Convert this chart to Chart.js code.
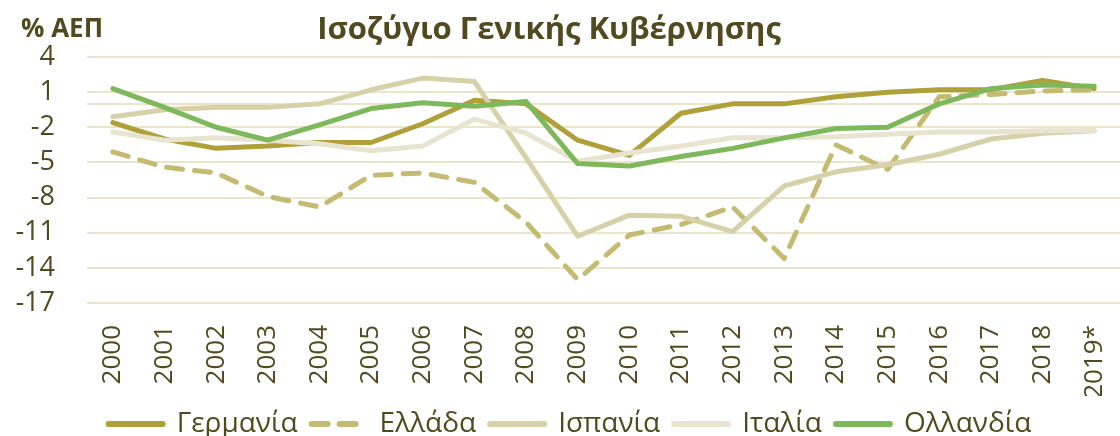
<!DOCTYPE html>
<html>
<head>
<meta charset="utf-8">
<script src="https://cdn.jsdelivr.net/npm/chart.js@4.4.0/dist/chart.umd.min.js"></script>
<style>
  html, body { margin: 0; padding: 0; background: #ffffff; }
</style>
</head>
<body>
<canvas id="chart" width="1120" height="436"></canvas>
<script>
const years = ["2000", "2001", "2002", "2003", "2004", "2005", "2006", "2007", "2008", "2009",
               "2010", "2011", "2012", "2013", "2014", "2015", "2016", "2017", "2018", "2019*"];

const germany     = [-1.6, -3.0, -3.8, -3.6, -3.3, -3.3, -1.7, 0.3, 0.0, -3.1, -4.4, -0.8, 0.0, 0.0, 0.6, 1.0, 1.2, 1.2, 2.0, 1.3];
const greece      = [-4.1, -5.4, -5.9, -7.9, -8.8, -6.1, -5.9, -6.7, -10.1, -15.0, -11.2, -10.3, -8.8, -13.2, -3.5, -5.6, 0.6, 0.8, 1.1, 1.2];
const spain       = [-1.1, -0.5, -0.3, -0.3, 0.0, 1.2, 2.2, 1.9, -4.6, -11.3, -9.5, -9.6, -10.9, -7.0, -5.8, -5.2, -4.3, -3.0, -2.5, -2.3];
const italy       = [-2.4, -3.1, -2.9, -3.1, -3.4, -4.0, -3.6, -1.3, -2.5, -4.9, -4.2, -3.6, -2.9, -2.9, -2.8, -2.6, -2.4, -2.4, -2.3, -2.3];
const netherlands = [1.3, -0.3, -2.0, -3.1, -1.8, -0.4, 0.1, -0.2, 0.2, -5.1, -5.3, -4.5, -3.8, -2.9, -2.1, -2.0, 0.0, 1.3, 1.6, 1.5];

const seriesNames = ["Γερμανία", "Ελλάδα", "Ισπανία", "Ιταλία", "Ολλανδία"];
const yTicks = [4, 1, -2, -5, -8, -11, -14, -17];

const TEXT = "#524a1e";
const GRID = "#ece6c9";
const FONT = "'Open Sans', 'Noto Sans', sans-serif";

// title and unit label above the plot
const headerText = {
    id: "headerText",
    afterDraw(chart) {
        const ctx = chart.ctx;
        ctx.save();
        ctx.fillStyle = TEXT;
        ctx.textBaseline = "alphabetic";
        ctx.font = "bold 31px " + FONT;
        ctx.textAlign = "center";
        ctx.fillText("Ισοζύγιο Γενικής Κυβέρνησης", 549, 39);
        ctx.font = "bold 26px " + FONT;
        ctx.textAlign = "left";
        ctx.fillText("% ΑΕΠ", 21, 37);
        ctx.restore();
    }
};

// horizontal axis line crossing at zero
const zeroLine = {
    id: "zeroLine",
    beforeDatasetsDraw(chart) {
        const { ctx, chartArea, scales } = chart;
        const y = Math.round(scales.y.getPixelForValue(0));
        ctx.save();
        ctx.strokeStyle = GRID;
        ctx.lineWidth = 2;
        ctx.beginPath();
        ctx.moveTo(chartArea.left, y);
        ctx.lineTo(chartArea.right, y);
        ctx.stroke();
        ctx.restore();
    }
};

const line = (label, data, color, order, dash) => ({
    label,
    data,
    borderColor: color,
    backgroundColor: color,
    borderWidth: 5,
    borderDash: dash || [],
    borderCapStyle: "round",
    borderJoinStyle: "round",
    pointRadius: 0,
    tension: 0,
    order
});

// legend keeps the dash pattern of each series
const legendLabels = (chart) => {
    const items = Chart.defaults.plugins.legend.labels.generateLabels(chart);
    items.forEach(item => {
        const ds = chart.data.datasets[item.datasetIndex];
        item.lineDash = ds.borderDash;
        item.lineCap = "round";
        item.strokeStyle = ds.borderColor;
        item.lineWidth = 6;
    });
    return items;
};

new Chart(document.getElementById("chart"), {
    type: "line",
    plugins: [headerText, zeroLine],
    data: {
        labels: years,
        datasets: [
            line(seriesNames[0], germany, "#afa03a", 5),
            line(seriesNames[1], greece, "#c4ba72", 4, [16, 12]),
            line(seriesNames[2], spain, "#d7d1a9", 3),
            line(seriesNames[3], italy, "#e9e4cf", 2),
            line(seriesNames[4], netherlands, "#7db85a", 1)
        ]
    },
    options: {
        responsive: false,
        animation: false,
        layout: { padding: { top: 57, left: 0, right: -20, bottom: -12 } },
        scales: {
            x: {
                offset: true,
                grid: { display: false, drawTicks: false },
                border: { display: false },
                ticks: {
                    color: TEXT,
                    font: { family: FONT, size: 26 },
                    minRotation: 90,
                    maxRotation: 90,
                    autoSkip: false,
                    padding: 22
                },
                afterFit: (scale) => {
                    scale.height = 93;
                    scale.paddingLeft = 0;
                    scale.paddingRight = -20;
                }
            },
            y: {
                min: -17,
                max: 4,
                afterBuildTicks: (scale) => { scale.ticks = yTicks.map(v => ({ value: v })); },
                afterFit: (scale) => { scale.width = 87; },
                grid: { color: GRID, lineWidth: 2, drawTicks: false },
                border: { display: false },
                ticks: {
                    color: TEXT,
                    font: { family: FONT, size: 27 },
                    padding: 32,
                    autoSkip: false
                }
            }
        },
        plugins: {
            tooltip: { enabled: false },
            legend: {
                position: "bottom",
                labels: {
                    color: TEXT,
                    font: { family: FONT, size: 28 },
                    usePointStyle: true,
                    pointStyle: "line",
                    pointStyleWidth: 54,
                    padding: 14,
                    generateLabels: legendLabels,
                    sort: (a, b) => a.datasetIndex - b.datasetIndex
                }
            }
        }
    }
});
</script>
</body>
</html>
